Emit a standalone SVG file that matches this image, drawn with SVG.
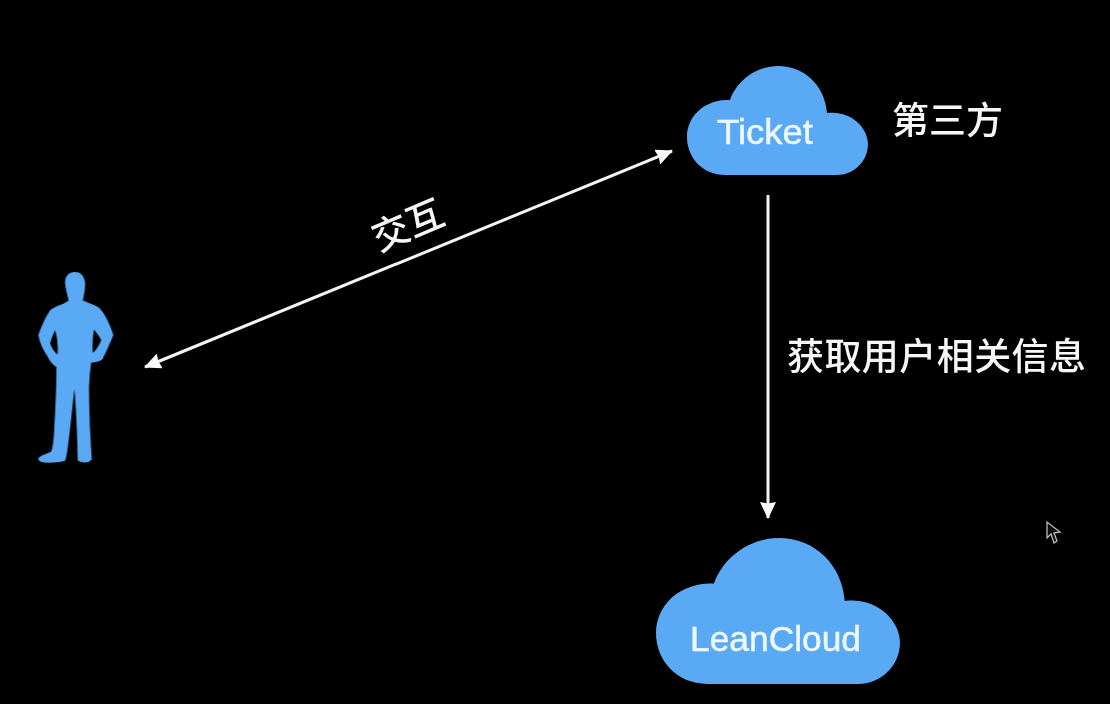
<svg xmlns="http://www.w3.org/2000/svg" width="1110" height="704" viewBox="0 0 1110 704">
<style>
.blue{fill:#5aa9f4}
.lab{font-family:"Liberation Sans","Noto Sans CJK SC",sans-serif;fill:#eef8ff;stroke:#eef8ff;stroke-width:.5px;font-size:35px}
.cjk{font-family:"Noto Sans CJK SC","Liberation Sans",sans-serif;fill:#f6f6f6;font-size:37px;font-weight:500}
.wire{stroke:#f4f4f4;stroke-width:3;fill:none}
</style>
<defs>
<filter id="soft" x="-5%" y="-5%" width="110%" height="110%"><feGaussianBlur stdDeviation="0.7"/></filter>
<path id="cloud" d="M725 175C703 175 687 158 687 137C687 117 703 101 726 100L730 100C737 80 757 66 778 66C805 66 825 86 827 113C850 110 868 127 868 144C868 162 853 175 837 175Z"/>
<marker id="head" viewBox="0 0 17 16" refX="16" refY="8" markerWidth="17" markerHeight="16" markerUnits="userSpaceOnUse" orient="auto-start-reverse"><path d="M0 0L17 8L0 16L1.5 8Z" fill="#fafafa"/></marker>
</defs>
<rect width="1110" height="704" fill="#000"/>
<g filter="url(#soft)">
<g id="connectors">
<line class="wire" x1="145" y1="367" x2="672" y2="151" marker-start="url(#head)" marker-end="url(#head)"/>
<line class="wire" x1="768" y1="195" x2="768" y2="518" marker-end="url(#head)"/>
</g>
<g id="person"><path class="blue" stroke="#5aa9f4" stroke-width="4" stroke-linejoin="round" fill-rule="evenodd" transform="translate(20 260) scale(.3333)" d="M165 38C147 38 136 50 137 68C138 85 143 100 148 122C135 135 105 140 92 152C78 172 66 200 57 225C60 245 70 268 85 290C92 305 103 315 111 320C112 360 110 410 104 520C102 550 98 570 95 576C80 585 60 588 57 596C57 605 70 606 85 606C105 606 125 605 134 600C142 585 150 480 163 370C168 400 174 520 175 600C185 608 205 608 213 598C212 560 205 500 205 380C206 350 209 325 212 306C225 305 240 302 246 296C258 272 270 245 278 225C268 195 255 165 238 147C225 135 200 132 186 122C190 105 195 85 193 65C190 48 180 38 165 38ZM106 204C98 220 92 235 88 250C93 265 103 280 114 288C117 265 114 230 106 204ZM221 204C216 230 214 260 217 282C228 275 240 255 246 240C240 228 230 215 221 204Z"/></g>
<g id="ticket"><use href="#cloud" class="blue"/><text class="lab" x="717" y="144" textLength="96" lengthAdjust="spacingAndGlyphs">Ticket</text></g>
<g id="leancloud"><use href="#cloud" class="blue" transform="translate(656 538) scale(1.348 1.339) translate(-687 -66)"/><text class="lab" x="690" y="651" textLength="171" lengthAdjust="spacingAndGlyphs">LeanCloud</text></g>
<text class="cjk" x="892" y="134">第三方</text>
<text class="cjk" x="787" y="370" textLength="299">获取用户相关信息</text>
<text class="cjk" transform="translate(379 252) rotate(-23)">交互</text>
<path id="cursor" d="M1047 522L1047 538L1051 534L1054 543L1057 541L1054 533L1060 532Z" fill="#111" stroke="#bbb" stroke-width="1.3"/>
</g>
</svg>
